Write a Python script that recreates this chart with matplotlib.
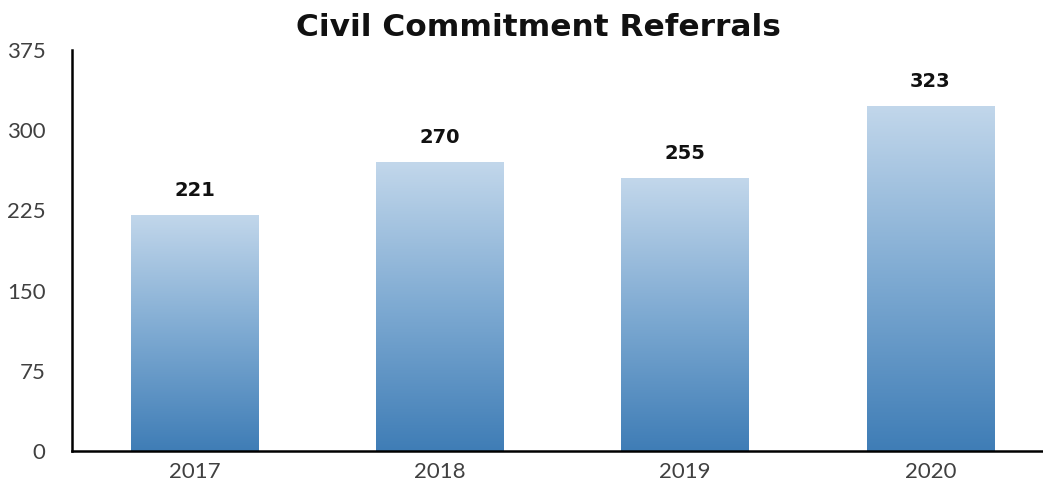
import numpy as np
import matplotlib.pyplot as plt
from matplotlib.colors import LinearSegmentedColormap

years = ['2017', '2018', '2019', '2020']
referrals = [221, 270, 255, 323]
yticks = [0, 75, 150, 225, 300, 375]

fig = plt.figure(figsize=(10.43, 5.01), dpi=100)
ax = fig.add_axes([0.069, 0.0998, 0.931, 0.8004])

x = np.arange(len(years))
width = 0.52
bars = ax.bar(x, referrals, width=width, color='none', edgecolor='none', zorder=2)

# vertical fade from pale blue at the top to steel blue at the base
cmap = LinearSegmentedColormap.from_list('fade', ['#3f7db6', '#7eaad2', '#c2d7eb'])
grad = np.linspace(0, 1, 256).reshape(-1, 1)
for b in bars:
    x0, w, h = b.get_x(), b.get_width(), b.get_height()
    im = ax.imshow(grad, cmap=cmap, origin='lower', aspect='auto',
                   extent=[x0, x0 + w, 0, h], zorder=2, interpolation='bicubic')
    im.set_clip_path(b)
    ax.text(x0 + w / 2, h + 14, str(h), ha='center', va='bottom',
            fontsize=14, fontweight='bold', color='#111111', family='DejaVu Sans')

ax.set_xlim(-0.502, 3.46)
ax.set_ylim(0, 375)
ax.set_yticks(yticks)
ax.set_xticks(x)
ax.set_xticklabels(years)
ax.tick_params(length=0, labelsize=16, colors='#404040', pad=8)
ax.tick_params(axis='y', pad=19)
for lab in ax.get_xticklabels() + ax.get_yticklabels():
    lab.set_family('Lato')

for side in ['top', 'right']:
    ax.spines[side].set_visible(False)
for side in ['left', 'bottom']:
    ax.spines[side].set_linewidth(1.8)
    ax.spines[side].set_color('black')

fig.text(0.516, 0.945, 'Civil Commitment Referrals', ha='center', va='center',
         fontsize=22.5, fontweight='bold', color='#111111', family='DejaVu Sans')

fig.savefig('out.png', dpi=100)
